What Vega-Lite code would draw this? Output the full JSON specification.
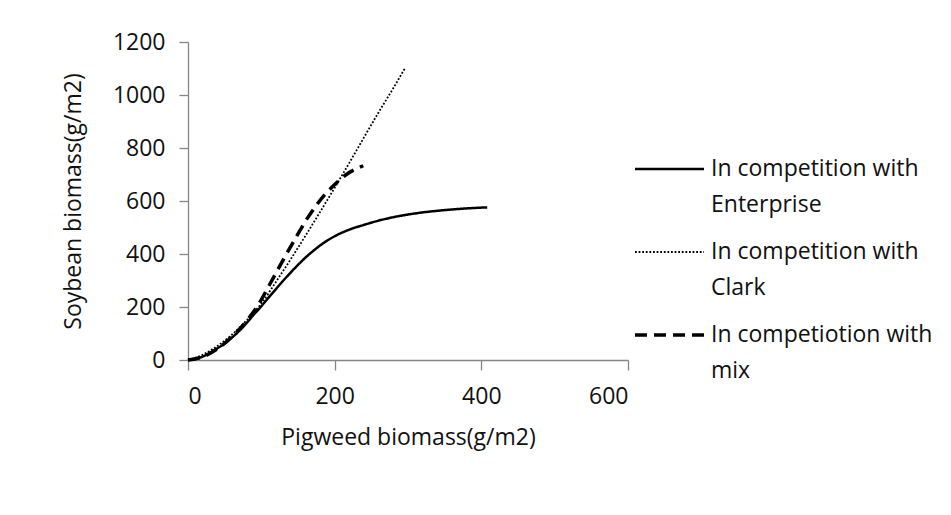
{
  "$schema": "https://vega.github.io/schema/vega-lite/v6.json",
  "width": 440,
  "height": 318,
  "autosize": {"type": "none"},
  "padding": {"left": 188, "top": 42, "right": 323, "bottom": 155},
  "background": "white",
  "config": {
    "view": {"stroke": null},
    "font": "Open Sans",
    "style": {"guide-label": {"lineHeight": 36}},
    "axis": {
      "grid": false,
      "domainColor": "#868686",
      "tickColor": "#868686",
      "domainWidth": 1.3,
      "tickWidth": 1.3,
      "labelFont": "Open Sans",
      "labelFontSize": 23,
      "labelColor": "#111111",
      "titleFont": "Open Sans",
      "titleFontSize": 23,
      "titleFontWeight": "normal",
      "titleColor": "#111111"
    },
    "legend": {
      "labelFont": "Open Sans",
      "labelFontSize": 23,
      "labelColor": "#111111",
      "labelLimit": 400
    }
  },
  "data": {
    "values": [
      {"series": "In competition with Enterprise", "pigweed": 0, "soybean": 0},
      {"series": "In competition with Enterprise", "pigweed": 10, "soybean": 4},
      {"series": "In competition with Enterprise", "pigweed": 20, "soybean": 13},
      {"series": "In competition with Enterprise", "pigweed": 30, "soybean": 27},
      {"series": "In competition with Enterprise", "pigweed": 40, "soybean": 44},
      {"series": "In competition with Enterprise", "pigweed": 50, "soybean": 62},
      {"series": "In competition with Enterprise", "pigweed": 60, "soybean": 85},
      {"series": "In competition with Enterprise", "pigweed": 70, "soybean": 110},
      {"series": "In competition with Enterprise", "pigweed": 80, "soybean": 140},
      {"series": "In competition with Enterprise", "pigweed": 90, "soybean": 172},
      {"series": "In competition with Enterprise", "pigweed": 100, "soybean": 203},
      {"series": "In competition with Enterprise", "pigweed": 110, "soybean": 236},
      {"series": "In competition with Enterprise", "pigweed": 120, "soybean": 268},
      {"series": "In competition with Enterprise", "pigweed": 130, "soybean": 300},
      {"series": "In competition with Enterprise", "pigweed": 140, "soybean": 330},
      {"series": "In competition with Enterprise", "pigweed": 150, "soybean": 359},
      {"series": "In competition with Enterprise", "pigweed": 160, "soybean": 386},
      {"series": "In competition with Enterprise", "pigweed": 170, "soybean": 410},
      {"series": "In competition with Enterprise", "pigweed": 180, "soybean": 432},
      {"series": "In competition with Enterprise", "pigweed": 190, "soybean": 451},
      {"series": "In competition with Enterprise", "pigweed": 200, "soybean": 467},
      {"series": "In competition with Enterprise", "pigweed": 220, "soybean": 492},
      {"series": "In competition with Enterprise", "pigweed": 240, "soybean": 510},
      {"series": "In competition with Enterprise", "pigweed": 260, "soybean": 526},
      {"series": "In competition with Enterprise", "pigweed": 280, "soybean": 539},
      {"series": "In competition with Enterprise", "pigweed": 300, "soybean": 549},
      {"series": "In competition with Enterprise", "pigweed": 320, "soybean": 557},
      {"series": "In competition with Enterprise", "pigweed": 340, "soybean": 563},
      {"series": "In competition with Enterprise", "pigweed": 360, "soybean": 568},
      {"series": "In competition with Enterprise", "pigweed": 380, "soybean": 572},
      {"series": "In competition with Enterprise", "pigweed": 408, "soybean": 576},
      {"series": "In competition with Clark", "pigweed": 0, "soybean": 0},
      {"series": "In competition with Clark", "pigweed": 10, "soybean": 8},
      {"series": "In competition with Clark", "pigweed": 20, "soybean": 20},
      {"series": "In competition with Clark", "pigweed": 40, "soybean": 53},
      {"series": "In competition with Clark", "pigweed": 60, "soybean": 96},
      {"series": "In competition with Clark", "pigweed": 80, "soybean": 150},
      {"series": "In competition with Clark", "pigweed": 100, "soybean": 213},
      {"series": "In competition with Clark", "pigweed": 120, "soybean": 295},
      {"series": "In competition with Clark", "pigweed": 140, "soybean": 380},
      {"series": "In competition with Clark", "pigweed": 160, "soybean": 468},
      {"series": "In competition with Clark", "pigweed": 180, "soybean": 558},
      {"series": "In competition with Clark", "pigweed": 200, "soybean": 650},
      {"series": "In competition with Clark", "pigweed": 220, "soybean": 744},
      {"series": "In competition with Clark", "pigweed": 240, "soybean": 840},
      {"series": "In competition with Clark", "pigweed": 260, "soybean": 935},
      {"series": "In competition with Clark", "pigweed": 280, "soybean": 1026},
      {"series": "In competition with Clark", "pigweed": 296, "soybean": 1102},
      {"series": "In competiotion with mix", "pigweed": 0, "soybean": 0},
      {"series": "In competiotion with mix", "pigweed": 20, "soybean": 12},
      {"series": "In competiotion with mix", "pigweed": 40, "soybean": 42},
      {"series": "In competiotion with mix", "pigweed": 60, "soybean": 88},
      {"series": "In competiotion with mix", "pigweed": 80, "soybean": 148},
      {"series": "In competiotion with mix", "pigweed": 95, "soybean": 205},
      {"series": "In competiotion with mix", "pigweed": 111, "soybean": 283},
      {"series": "In competiotion with mix", "pigweed": 127, "soybean": 364},
      {"series": "In competiotion with mix", "pigweed": 145, "soybean": 452},
      {"series": "In competiotion with mix", "pigweed": 164, "soybean": 540},
      {"series": "In competiotion with mix", "pigweed": 186, "soybean": 622},
      {"series": "In competiotion with mix", "pigweed": 200, "soybean": 662},
      {"series": "In competiotion with mix", "pigweed": 216, "soybean": 700},
      {"series": "In competiotion with mix", "pigweed": 239, "soybean": 733}
    ]
  },
  "mark": {"type": "line", "color": "black", "interpolate": "monotone"},
  "encoding": {
    "x": {
      "field": "pigweed",
      "type": "quantitative",
      "title": "Pigweed biomass(g/m2)",
      "scale": {"domain": [0, 600], "nice": false},
      "axis": {"values": [0, 200, 400, 600], "format": "d", "tickSize": 10, "labelPadding": 15, "titlePadding": 18}
    },
    "y": {
      "field": "soybean",
      "type": "quantitative",
      "title": "Soybean biomass(g/m2)",
      "scale": {"domain": [0, 1200], "nice": false},
      "axis": {"values": [0, 200, 400, 600, 800, 1000, 1200], "format": "d", "tickSize": 9, "labelPadding": 14, "titlePadding": 27}
    },
    "detail": {"field": "series"},
    "strokeDash": {
      "field": "series",
      "type": "nominal",
      "scale": {
        "domain": ["In competition with Enterprise", "In competition with Clark", "In competiotion with mix"],
        "range": [[1, 0], [1.8, 1.8], [12, 7]]
      },
      "legend": {
        "title": null,
        "orient": "none",
        "legendX": 445,
        "legendY": 92,
        "symbolType": "stroke",
        "symbolSize": 4761,
        "symbolStrokeColor": "black",
        "labelOffset": 5,
        "rowPadding": 0,
        "clipHeight": 70,
        "padding": 0,
        "labelExpr": "split(replace(datum.label, ' with ', ' with|'), '|')"
      }
    },
    "strokeWidth": {
      "field": "series",
      "type": "nominal",
      "scale": {
        "type": "ordinal",
        "domain": ["In competition with Enterprise", "In competition with Clark", "In competiotion with mix"],
        "range": [2.5, 1.8, 3.5]
      },
      "legend": null
    }
  }
}
